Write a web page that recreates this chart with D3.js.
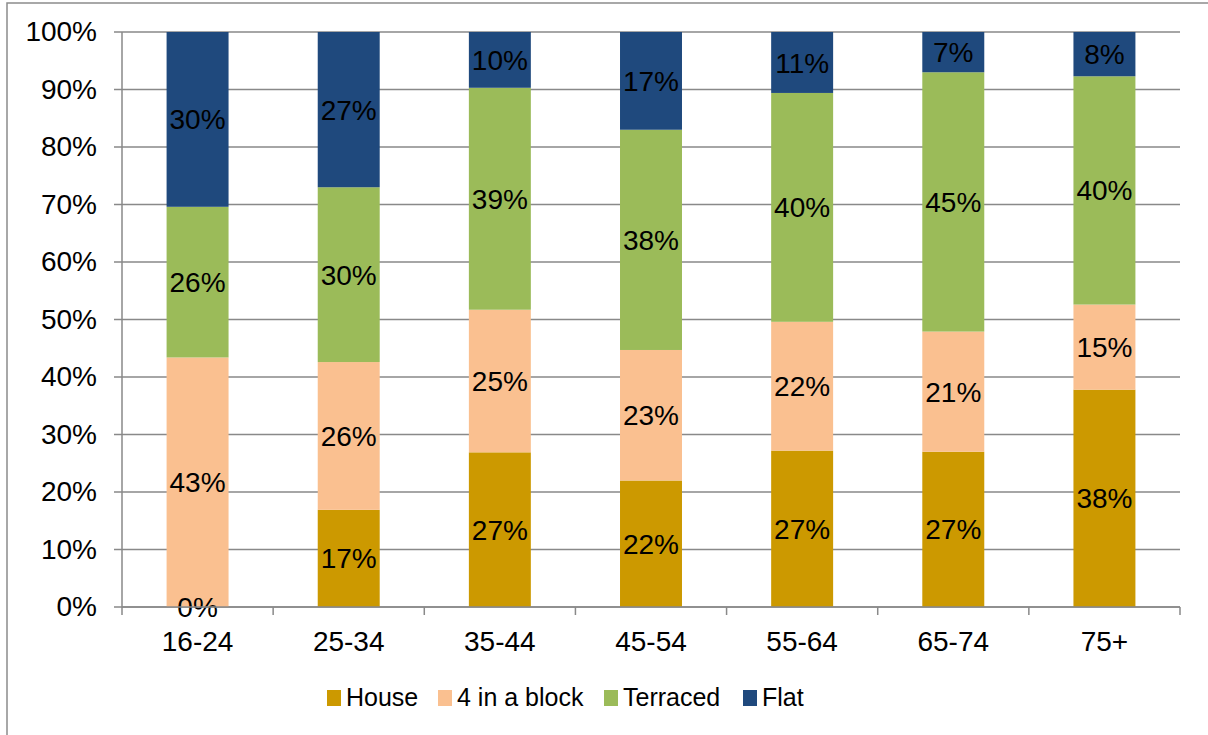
<!DOCTYPE html>
<html>
<head>
<meta charset="utf-8">
<script src="https://cdn.jsdelivr.net/npm/d3@7"></script>
<style>
  body { margin: 0; background: #fff; }
  svg { display: block; font-family: "Liberation Sans", Arial, sans-serif; }
</style>
</head>
<body>
<div id="chart"></div>
<script>
/* Stacked 100% bar chart - dwelling type by age group */

const ageGroups = ["16-24", "25-34", "35-44", "45-54", "55-64", "65-74", "75+"];
const seriesNames = ["House", "4 in a block", "Terraced", "Flat"];
const colors = ["#CC9900", "#FAC090", "#9BBB59", "#1F497D"];

// shares per age group
const house     = [0.000, 0.169, 0.269, 0.220, 0.272, 0.270, 0.378];
const inBlock   = [0.434, 0.257, 0.248, 0.227, 0.224, 0.209, 0.148];
const terraced  = [0.262, 0.304, 0.386, 0.383, 0.398, 0.451, 0.397];
const flat      = [0.304, 0.270, 0.097, 0.170, 0.106, 0.070, 0.077];
const yTicks = [0, 0.1, 0.2, 0.3, 0.4, 0.5, 0.6, 0.7, 0.8, 0.9, 1.0];

const width = 1208,
    height = 735,
    margin = ({top: 32, right: 28, bottom: 128, left: 122});

const data = ageGroups.map((g, i) => ({
    group: g,
    "House": house[i],
    "4 in a block": inBlock[i],
    "Terraced": terraced[i],
    "Flat": flat[i]
}));

const stacked = d3.stack().keys(seriesNames)(data);

let svg = d3.select("#chart")
    .append("svg")
    .attr("width", width)
    .attr("height", height)
    .attr("viewBox", [0, 0, width, height]);

// outer chart border
svg.append("rect")
    .attr("x", 7).attr("y", 3)
    .attr("width", width + 20).attr("height", height + 20)
    .attr("fill", "none")
    .attr("stroke", "#8c8c8c")
    .attr("stroke-width", 1.5);

let xCat = d3.scaleBand()                 // whole category slots, for ticks
    .domain(ageGroups)
    .range([margin.left, width - margin.right]);

let x = d3.scaleBand()                    // narrow bars inside the slots
    .domain(ageGroups)
    .range([margin.left, width - margin.right])
    .paddingInner(0.59)
    .paddingOuter(0.295);

let y = d3.scaleLinear()
    .domain([0, 1])
    .range([height - margin.bottom, margin.top]);

// gridlines
svg.append("g")
    .selectAll("line")
    .data(yTicks)
    .join("line")
    .attr("x1", margin.left - 8)
    .attr("x2", width - margin.right)
    .attr("y1", d => y(d))
    .attr("y2", d => y(d))
    .attr("stroke", "#898989")
    .attr("stroke-width", 1.5);

// y axis labels
const yAxis = g => g
    .attr("transform", `translate(${margin.left - 8},0)`)
    .call(d3.axisLeft(y).tickValues(yTicks).tickFormat(d3.format(".0%")).tickSize(0).tickPadding(17))
    .call(g => g.select(".domain").remove())
    .call(g => g.selectAll("text").attr("font-size", 28).attr("fill", "#000")
        .attr("font-family", "Liberation Sans, Arial, sans-serif"));

svg.append("g").call(yAxis);

// bars
let layer = svg.append("g")
    .selectAll("g")
    .data(stacked)
    .join("g")
    .attr("fill", (d, i) => colors[i]);

layer.selectAll("rect")
    .data(d => d)
    .join("rect")
    .attr("x", d => x(d.data.group))
    .attr("width", x.bandwidth())
    .attr("y", d => y(d[1]))
    .attr("height", d => y(d[0]) - y(d[1]));

// data labels
let labels = svg.append("g")
    .selectAll("g")
    .data(stacked)
    .join("g");

labels.selectAll("text")
    .data(d => d)
    .join("text")
    .attr("x", d => x(d.data.group) + x.bandwidth() / 2)
    .attr("y", d => (y(d[0]) + y(d[1])) / 2)
    .attr("dy", "0.36em")
    .attr("text-anchor", "middle")
    .attr("font-size", 28)
    .attr("fill", "#000")
    .text(d => d3.format(".0%")(d[1] - d[0]));

// x axis line and boundary ticks
let xg = svg.append("g");
xg.append("line")
    .attr("x1", margin.left).attr("x2", width - margin.right)
    .attr("y1", y(0)).attr("y2", y(0))
    .attr("stroke", "#898989").attr("stroke-width", 1.5);
xg.append("line")
    .attr("x1", margin.left).attr("x2", margin.left)
    .attr("y1", y(1)).attr("y2", y(0))
    .attr("stroke", "#898989").attr("stroke-width", 1.5);
xg.selectAll(".tick")
    .data(ageGroups.concat(["end"]))
    .join("line")
    .attr("class", "tick")
    .attr("x1", (d, i) => margin.left + i * xCat.step())
    .attr("x2", (d, i) => margin.left + i * xCat.step())
    .attr("y1", y(0)).attr("y2", y(0) + 8)
    .attr("stroke", "#898989").attr("stroke-width", 1.5);

xg.selectAll(".xlabel")
    .data(ageGroups)
    .join("text")
    .attr("class", "xlabel")
    .attr("x", d => xCat(d) + xCat.bandwidth() / 2)
    .attr("y", y(0) + 44)
    .attr("text-anchor", "middle")
    .attr("font-size", 28)
    .attr("fill", "#000")
    .text(d => d);

// legend
const legendX = [327, 438, 604, 743];
let legend = svg.append("g")
    .selectAll("g")
    .data(seriesNames)
    .join("g")
    .attr("transform", (d, i) => `translate(${legendX[i]},690)`);

legend.append("rect")
    .attr("width", 14)
    .attr("height", 16)
    .attr("fill", (d, i) => colors[i]);

legend.append("text")
    .attr("x", 19)
    .attr("y", 16)
    .attr("font-size", 25)
    .attr("fill", "#000")
    .text(d => d);
</script>
</body>
</html>
